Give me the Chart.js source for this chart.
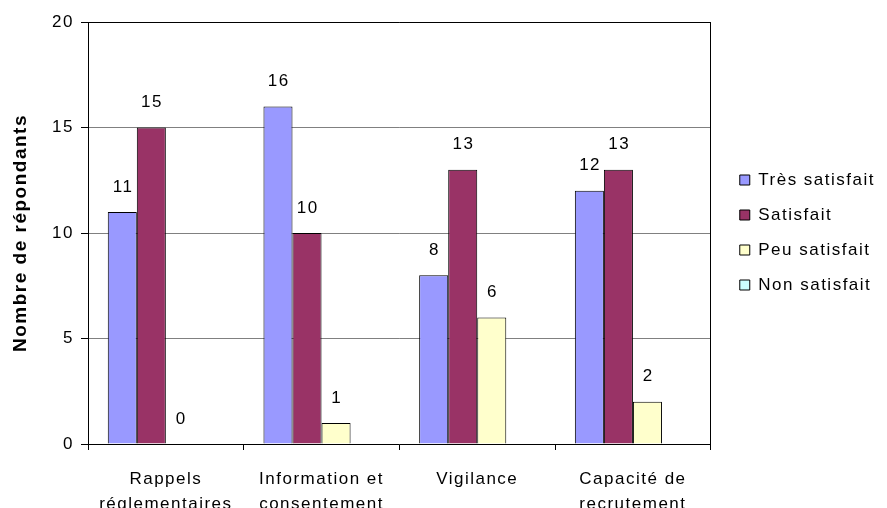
<!DOCTYPE html>
<html><head><meta charset="utf-8">
<script src="https://cdn.jsdelivr.net/npm/chart.js@4.4.1/dist/chart.umd.min.js"></script>
<style>html,body{margin:0;padding:0;background:#fff;overflow:hidden}canvas{display:block}</style>
</head><body>
<canvas id="c" width="887" height="508" style="width:887px;height:508px"></canvas>
<script>
const categories = [['Rappels', 'réglementaires'], ['Information et', 'consentement'], 'Vigilance', ['Capacité de', 'recrutement']];
const seriesNames = ['Très satisfait', 'Satisfait', 'Peu satisfait', 'Non satisfait'];
const tresSatisfait = [11, 16, 8, 12];
const satisfait = [15, 10, 13, 13];
const peuSatisfait = [0, 1, 6, 2];
const nonSatisfait = [null, null, null, null];
const yTicks = [0, 5, 10, 15, 20];
const axisTitle = 'Nombre de répondants';

const FONT = '"Liberation Sans", Arial, sans-serif';
const colors = ['#9999FF', '#993366', '#FFFFCC', '#CCFFFF'];
const seriesValues = [tresSatisfait, satisfait, peuSatisfait, nonSatisfait];
const SPACING = 1.5;

function patchCtx(ctx) {
  if (ctx.__patched) return;
  ctx.__patched = true;
  const orig = ctx.measureText.bind(ctx);
  ctx.letterSpacing = '0px';
  const w0 = orig('abcd').width;
  ctx.letterSpacing = '10px';
  const w1 = orig('abcd').width;
  ctx.letterSpacing = SPACING + 'px';
  if (Math.abs(w1 - w0) < 1) {
    ctx.measureText = (t) => {
      const m = orig(t);
      const s = parseFloat(ctx.letterSpacing) || 0;
      return {
        width: m.width + String(t).length * s,
        actualBoundingBoxAscent: m.actualBoundingBoxAscent,
        actualBoundingBoxDescent: m.actualBoundingBoxDescent,
        actualBoundingBoxLeft: m.actualBoundingBoxLeft,
        actualBoundingBoxRight: m.actualBoundingBoxRight
      };
    };
  }
}

const spacing = {
  id: 'spacing',
  beforeInit(c) { patchCtx(c.ctx); c.ctx.letterSpacing = SPACING + 'px'; },
  beforeUpdate(c) { patchCtx(c.ctx); c.ctx.letterSpacing = SPACING + 'px'; },
  beforeLayout(c) { c.ctx.letterSpacing = SPACING + 'px'; },
  beforeDraw(c) { c.ctx.letterSpacing = SPACING + 'px'; }
};

const valueLabels = {
  id: 'valueLabels',
  afterDatasetsDraw(chart) {
    const ctx = chart.ctx;
    ctx.save();
    ctx.letterSpacing = SPACING + 'px';
    ctx.font = '17px ' + FONT;
    ctx.fillStyle = '#000';
    ctx.textAlign = 'center';
    ctx.textBaseline = 'middle';
    chart.data.datasets.forEach((ds, i) => {
      const meta = chart.getDatasetMeta(i);
      meta.data.forEach((bar, j) => {
        const v = ds.data[j];
        if (v === null || v === undefined) return;
        ctx.fillText(String(v), bar.x + SPACING / 2, bar.y - 25);
      });
    });
    ctx.restore();
  }
};

new Chart(document.getElementById('c'), {
  type: 'bar',
  data: {
    labels: categories,
    datasets: seriesNames.map((name, i) => ({
      label: name,
      data: seriesValues[i],
      backgroundColor: colors[i],
      borderColor: '#000',
      borderWidth: 1,
      inflateAmount: 0,
      categoryPercentage: 0.746,
      barPercentage: 1
    }))
  },
  options: {
    responsive: false,
    animation: false,
    devicePixelRatio: 1,
    layout: { padding: { top: 22, right: 2, left: 0, bottom: 0 } },
    plugins: {
      tooltip: { enabled: false },
      legend: {
        position: 'right',
        align: 'start',
        maxWidth: 400,
        title: { display: true, text: '', font: { size: 10, lineHeight: 1.2 }, padding: { top: 119.5, bottom: 0 } },
        labels: {
          boxWidth: 10, boxHeight: 10, padding: 18, color: '#000',
          font: { family: FONT, size: 17 }
        }
      }
    },
    scales: {
      x: {
        grid: { display: true, drawOnChartArea: false, drawTicks: true, tickLength: 6, color: '#000', offset: true },
        border: { display: true, color: '#000', width: 1 },
        ticks: { font: { family: FONT, size: 17, lineHeight: 1.5 }, color: '#000', padding: 16.5, maxRotation: 0, autoSkip: false },
        afterFit(s) { s.height = 64; }
      },
      y: {
        min: 0, max: 20,
        afterBuildTicks(s) { s.ticks = yTicks.map(v => ({ value: v })); },
        ticks: { font: { family: FONT, size: 17 }, color: '#000', padding: 7 },
        grid: { color: (c) => (c.tick && c.tick.value === 20 ? '#000' : '#808080'), tickColor: '#000', tickLength: 7 },
        border: { display: true, color: '#000', width: 1 },
        title: { display: true, text: axisTitle, color: '#000', font: { family: FONT, size: 19, weight: 'bold' }, padding: { top: 9, bottom: 0 } },
        afterFit(s) { s.width = 88; }
      },
      yr: {
        position: 'right', min: 0, max: 20,
        grid: { display: false, drawTicks: false },
        ticks: { display: false },
        border: { display: true, color: '#000', width: 1 },
        afterFit(s) { s.width = 11; }
      }
    }
  },
  plugins: [spacing, valueLabels]
});
</script>
</body></html>
